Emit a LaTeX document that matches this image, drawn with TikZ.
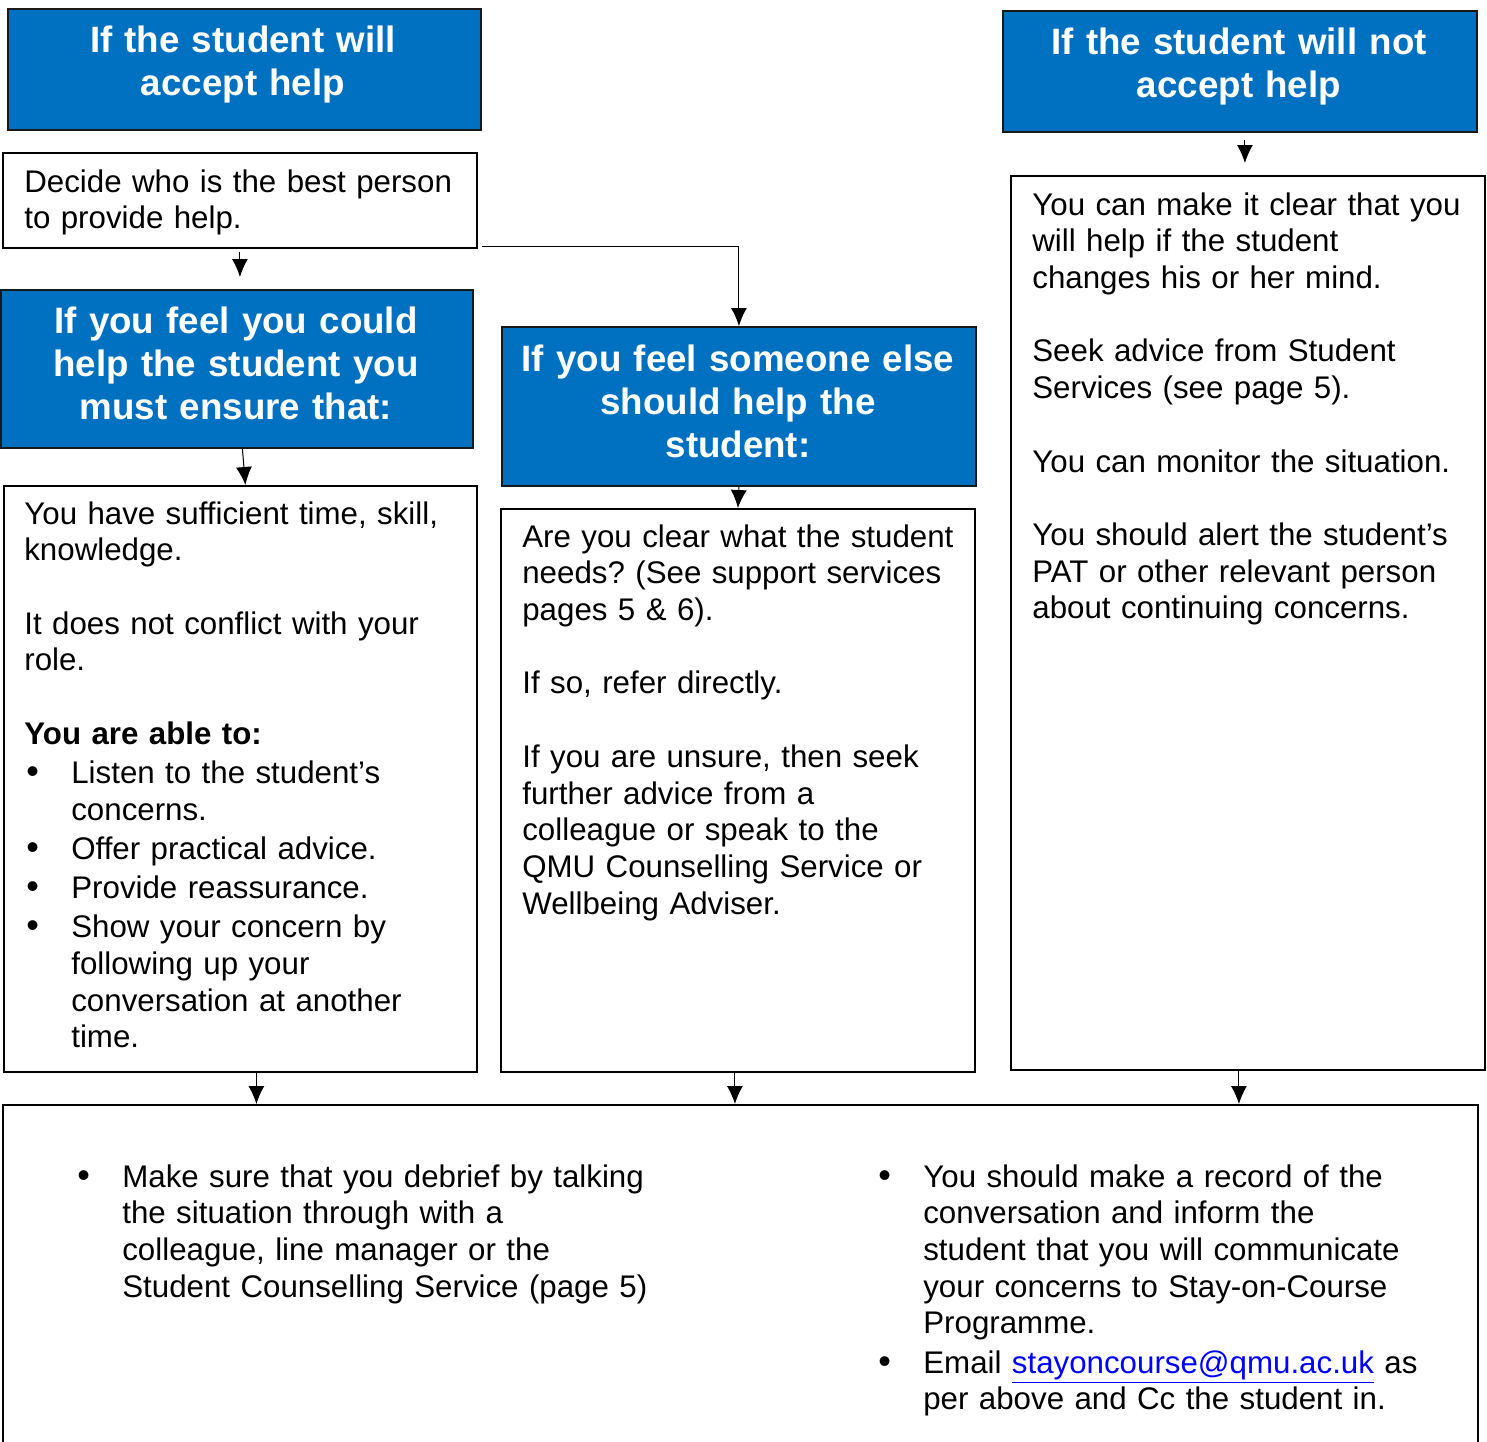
\documentclass[tikz,border=0pt]{standalone}
\usepackage{fontspec}
\setmainfont{Liberation Sans}
\usetikzlibrary{positioning,arrows.meta}

\definecolor{qmublue}{RGB}{0,112,192}
\definecolor{linkblue}{RGB}{0,0,255}

% bullet and hanging indent for the list lines
\newcommand{\bul}{\makebox[0.94cm][l]{\hspace{0.04cm}\scalebox{1.15}{\textbullet}}}
\newcommand{\ind}{\hspace*{0.94cm}}

\tikzset{
  headbox/.style={draw=black!90, line width=1.1pt, fill=qmublue, inner sep=0pt, anchor=north west},
  plainbox/.style={draw=black, line width=1.1pt, fill=white, inner sep=0pt, anchor=north west},
  headtext/.style={text=white, align=center, text width=9.2cm, anchor=base, inner sep=0pt,
    font=\fontsize{20.9}{24.6}\selectfont\bfseries},
  bodytext/.style={align=left, text width=9cm, anchor=base west, inner sep=0pt,
    font=\fontsize{17.8}{20.9}\selectfont\frenchspacing},
  arr/.style={-{Latex[length=0.36cm,width=0.32cm]}, line width=0.6pt},
}

\begin{document}
\begin{tikzpicture}[x=0.02cm, y=-0.02cm]
    \useasboundingbox (0,0) rectangle (1487,1441);

    % left column
    \node[headbox, minimum width=9.46cm, minimum height=2.42cm] (accept) at (7,8) {};
    \node[headtext] (accept-txt) at (243,52) {If the student will\\accept help};

    \node[plainbox, minimum width=9.48cm, minimum height=1.90cm] (decide) at (2,152) {};
    \node[bodytext] (decide-txt) at (24,192) {Decide who is the best person\\to provide help.};

    \node[headbox, minimum width=9.44cm, minimum height=3.16cm] (could) at (0.5,289) {};
    \node[headtext] (could-txt) at (236,333) {If you feel you could\\help the student you\\must ensure that:};

    \node[plainbox, minimum width=9.46cm, minimum height=11.72cm] (sure) at (3,485) {};
    \node[bodytext] (sure-txt) at (24,524) {You have sufficient time, skill,\\
      knowledge.\\[\baselineskip]
      It does not conflict with your\\
      role.\\[\baselineskip]
      \textbf{You are able to:}\\[1.4pt]
      \bul Listen to the student’s\\
      \ind concerns.\\[1.4pt]
      \bul Offer practical advice.\\[1.4pt]
      \bul Provide reassurance.\\[1.4pt]
      \bul Show your concern by\\
      \ind following up your\\
      \ind conversation at another\\
      \ind time.};

    % middle column
    \node[headbox, minimum width=9.48cm, minimum height=3.18cm] (someone) at (501,326) {};
    \node[headtext] (someone-txt) at (738,371) {If you feel someone else\\should help the\\student:};

    \node[plainbox, minimum width=9.48cm, minimum height=11.26cm] (refer) at (500,508) {};
    \node[bodytext] (refer-txt) at (522,547) {Are you clear what the student\\
      needs? (See support services\\
      pages 5 \& 6).\\[\baselineskip]
      If so, refer directly.\\[\baselineskip]
      If you are unsure, then seek\\
      further advice from a\\
      colleague or speak to the\\
      QMU Counselling Service or\\
      Wellbeing Adviser.};

    % right column
    \node[headbox, minimum width=9.48cm, minimum height=2.42cm] (refuse) at (1002,10) {};
    \node[headtext] (refuse-txt) at (1239,54) {If the student will not\\accept help};

    \node[plainbox, minimum width=9.48cm, minimum height=17.88cm] (monitor) at (1010,175) {};
    \node[bodytext] (monitor-txt) at (1032,215) {You can make it clear that you\\
      will help if the student\\
      changes his or her mind.\\[\baselineskip]
      Seek advice from Student\\
      Services (see page 5).\\[\baselineskip]
      You can monitor the situation.\\[\baselineskip]
      You should alert the student’s\\
      PAT or other relevant person\\
      about continuing concerns.};

    % common box at the bottom
    \node[plainbox, minimum width=29.50cm, minimum height=8.00cm] (debrief) at (2,1104) {};
    \node[bodytext, text width=12cm] (debrief-left) at (75,1187) {\bul Make sure that you debrief by talking\\
      \ind the situation through with a\\
      \ind colleague, line manager or the\\
      \ind Student Counselling Service (page 5)};
    \node[bodytext, text width=12cm] (debrief-right) at (876,1187) {\bul You should make a record of the\\
      \ind conversation and inform the\\
      \ind student that you will communicate\\
      \ind your concerns to Stay-on-Course\\
      \ind Programme.\\[1.4pt]
      \bul Email \textcolor{linkblue}{\underline{stayoncourse@qmu.ac.uk}} as\\
      \ind per above and Cc the student in.};

    % connectors
    \draw[arr, shorten <=0.06cm, shorten >=0.24cm] (decide.south) -- (decide.south |- could.north);
    \draw[arr] ([shift={(4,-2)}]decide.south east) -| (someone.north);
    \draw[arr] ([shift={(5,0)}]could.south) -- ([shift={(5,0)}]sure.north);
    \draw[arr] (someone.south) -- (refer.north);
    \draw[arr, shorten <=0.14cm, shorten >=0.24cm] ([shift={(5,0)}]refuse.south) -- ([shift={(-3,0)}]monitor.north);

    \coordinate (sure-out) at ([shift={(16,0)}]sure.south);
    \coordinate (refer-out) at ([shift={(-3,0)}]refer.south);
    \coordinate (monitor-out) at ([shift={(-9,0)}]monitor.south);
    \draw[arr] (sure-out) -- (sure-out |- debrief.north);
    \draw[arr] (refer-out) -- (refer-out |- debrief.north);
    \draw[arr] (monitor-out) -- (monitor-out |- debrief.north);
\end{tikzpicture}
\end{document}
